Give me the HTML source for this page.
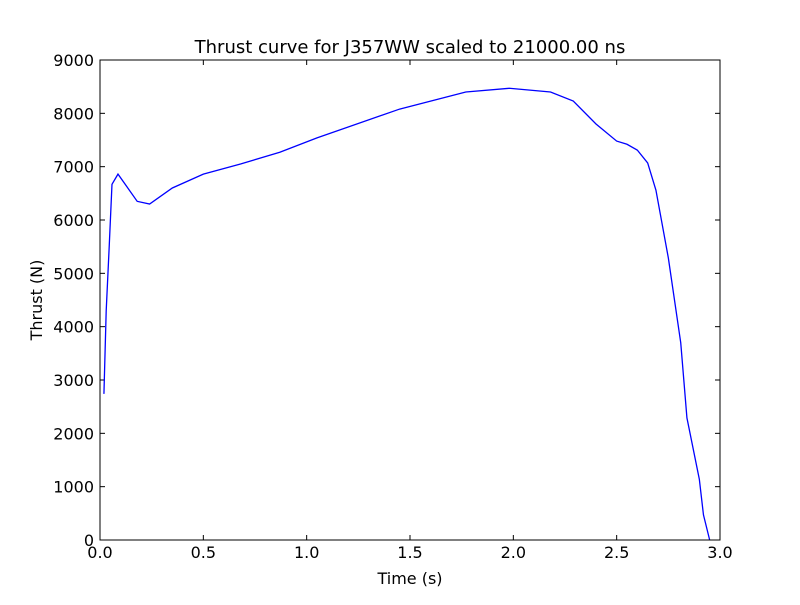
<!DOCTYPE html>
<html><head><meta charset="utf-8"><style>
body{margin:0;background:#fff;}
svg text{font-family:"DejaVu Sans","Liberation Sans",sans-serif;}
</style></head><body>
<svg id="chart" width="800" height="600" xmlns="http://www.w3.org/2000/svg">
<rect width="800" height="600" fill="#fff"/>
<text x="410" y="53" font-size="18" text-anchor="middle">Thrust curve for J357WW scaled to 21000.00 ns</text>
<text x="410" y="584" font-size="16" text-anchor="middle">Time (s)</text>
<text transform="translate(42,300) rotate(-90)" font-size="16" text-anchor="middle">Thrust (N)</text>
<g id="ticks"></g>
<path id="line" fill="none" stroke="#0000ff" stroke-width="1.3"/>
<rect x="100" y="60" width="620" height="480" fill="none" stroke="#000" stroke-width="1"/>
</svg>
<script>
const times = [0.019,0.03,0.045,0.058,0.087,0.18,0.24,0.35,0.5,0.68,0.87,1.05,1.45,1.77,1.98,2.18,2.29,2.4,2.5,2.55,2.6,2.65,2.69,2.75,2.81,2.84,2.9,2.92,2.95];
const thrusts = [2740,4300,5540,6670,6860,6350,6300,6600,6860,7050,7270,7540,8080,8400,8470,8400,8230,7800,7480,7420,7310,7070,6560,5290,3700,2290,1140,470,0];
const xTicks = [0,0.5,1,1.5,2,2.5,3];
const yTicks = [0,1000,2000,3000,4000,5000,6000,7000,8000,9000];
const X = t => 100 + t/3*620;
const Y = v => 540 - v/9000*480;
const ns = "http://www.w3.org/2000/svg";
const g = document.getElementById('ticks');
function mk(tag, attrs){const e=document.createElementNS(ns,tag);for(const k in attrs)e.setAttribute(k,attrs[k]);g.appendChild(e);return e;}
xTicks.forEach(t=>{
  const x=X(t);
  const a=mk('line',{x1:x,x2:x,y1:540,y2:535,stroke:'#000'});
  
  
  const b=mk('line',{x1:x,x2:x,y1:60,y2:65,stroke:'#000'});
  
  
  const l=mk('text',{x:x,y:558,'font-size':16,'text-anchor':'middle'});
  l.textContent=t.toFixed(1);
  
  
});
yTicks.forEach(v=>{
  const y=Y(v);
  const a=mk('line',{x1:100,x2:105,y1:y,y2:y,stroke:'#000'});
  
  
  const b=mk('line',{x1:715,x2:720,y1:y,y2:y,stroke:'#000'});
  
  
  const l=mk('text',{x:94,y:y+6,'font-size':16,'text-anchor':'end'});
  l.textContent=v;
  
  
});
document.getElementById('line').setAttribute('d', times.map((t,i)=>(i?'L':'M')+X(t).toFixed(2)+','+Y(thrusts[i]).toFixed(2)).join(''));
</script>
</body></html>
